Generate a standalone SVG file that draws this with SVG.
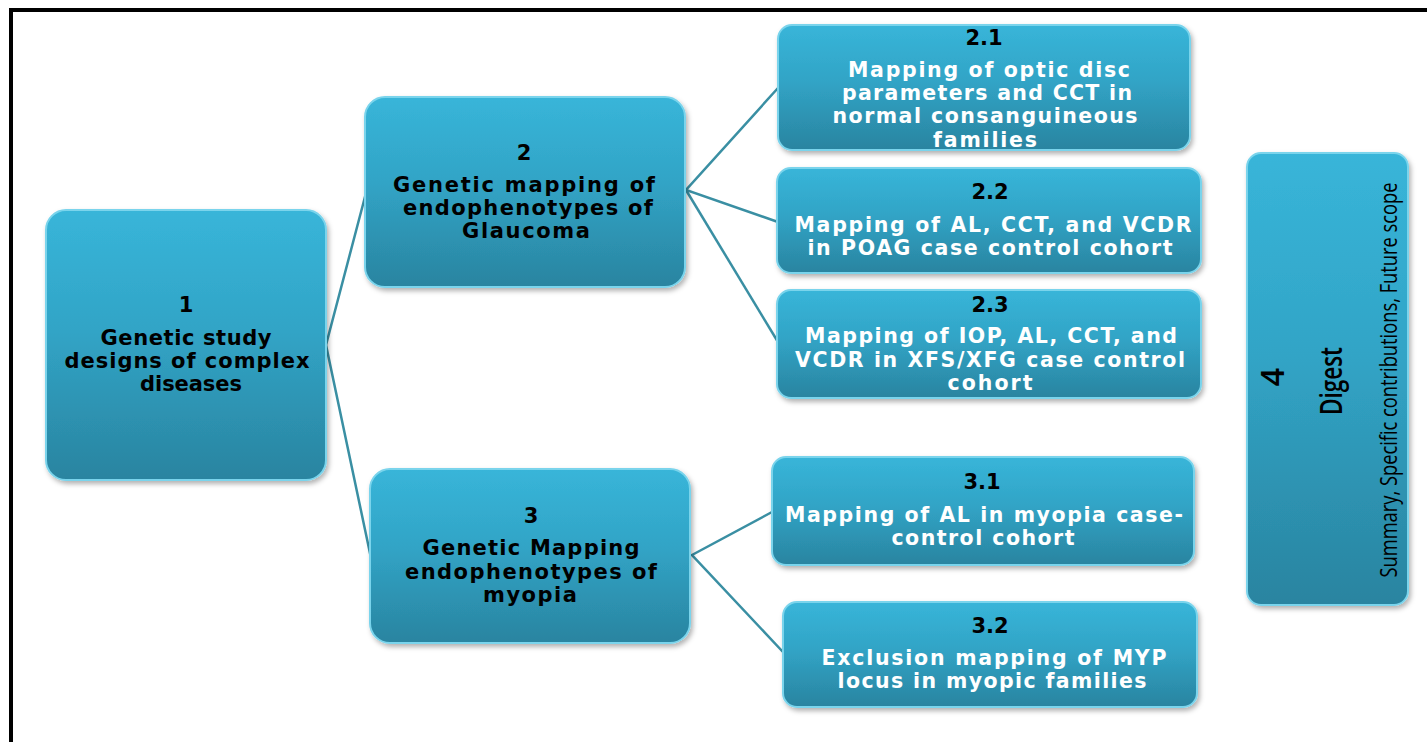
<svg xmlns="http://www.w3.org/2000/svg" width="1427" height="742" viewBox="0 0 1427 742">
<defs>
<linearGradient id="fill" x1="0" y1="0" x2="0" y2="1">
<stop offset="0" stop-color="#38b5d9"/>
<stop offset="0.45" stop-color="#31a4c6"/>
<stop offset="1" stop-color="#2a84a0"/>
</linearGradient>
<filter id="sh" x="-10%" y="-10%" width="125%" height="125%">
<feDropShadow dx="2" dy="3" stdDeviation="2.5" flood-color="#000" flood-opacity="0.3"/>
</filter>
</defs>
<style>
.box{fill:url(#fill);stroke:#7ad4ec;stroke-width:2;filter:url(#sh)}
.t{font-family:"DejaVu Sans",Verdana,sans-serif;font-weight:bold;text-anchor:middle}
.k{fill:#000;font-size:21px}
.w{fill:#fff;font-size:20.5px}
.n{fill:#000;font-size:21px}
.c{font-family:"Open Sans","Noto Sans",sans-serif;fill:#000;text-anchor:middle}
.ln{stroke:#3a8fa3;stroke-width:2.5;fill:none}
</style>
<rect x="0" y="0" width="1427" height="742" fill="#fff"/>
<rect x="9" y="8" width="1418" height="4" fill="#000"/>
<rect x="9" y="8" width="4" height="734" fill="#000"/>

<g id="connectors">
<polyline class="ln" points="366,193 326,345 371,558"/>
<polyline class="ln" points="778,88 686,190 778,222"/>
<line class="ln" x1="686" y1="190" x2="778" y2="342"/>
<polyline class="ln" points="772,512 692,555 783,652"/>
</g>

<g id="node1">
<rect class="box" x="46" y="210" width="280" height="270" rx="20"/>
<text class="t k" x="186" y="312">1</text>
<text class="t k" x="186" y="345" textLength="171" lengthAdjust="spacing">Genetic study</text>
<text class="t k" x="187" y="368" textLength="245" lengthAdjust="spacing">designs of complex</text>
<text class="t k" x="191" y="391" textLength="102" lengthAdjust="spacing">diseases</text>
</g>

<g id="node2">
<rect class="box" x="365" y="97" width="320" height="190" rx="20"/>
<text class="t k" x="524" y="160">2</text>
<text class="t k" x="524" y="192" textLength="262" lengthAdjust="spacing">Genetic  mapping of</text>
<text class="t k" x="528" y="215" textLength="250" lengthAdjust="spacing">endophenotypes of</text>
<text class="t k" x="526" y="238" textLength="128" lengthAdjust="spacing">Glaucoma</text>
</g>

<g id="node3">
<rect class="box" x="370" y="469" width="320" height="174" rx="20"/>
<text class="t k" x="531" y="523">3</text>
<text class="t k" x="531" y="555" textLength="217" lengthAdjust="spacing">Genetic Mapping</text>
<text class="t k" x="531" y="579" textLength="252" lengthAdjust="spacing">endophenotypes  of</text>
<text class="t k" x="530" y="602" textLength="94" lengthAdjust="spacing">myopia</text>
</g>

<g id="node2_1">
<rect class="box" x="778" y="25" width="412" height="125" rx="14"/>
<text class="t n" x="984" y="45">2.1</text>
<text class="t w" x="989" y="77" textLength="282" lengthAdjust="spacing">Mapping  of optic disc</text>
<text class="t w" x="987" y="100" textLength="290" lengthAdjust="spacing">parameters and CCT in</text>
<text class="t w" x="985" y="123" textLength="305" lengthAdjust="spacing">normal consanguineous</text>
<text class="t w" x="985" y="147" textLength="104" lengthAdjust="spacing">families</text>
</g>

<g id="node2_2">
<rect class="box" x="777" y="168" width="424" height="105" rx="14"/>
<text class="t n" x="990" y="199">2.2</text>
<text class="t w" x="993" y="232" textLength="397" lengthAdjust="spacing">Mapping  of AL, CCT, and VCDR</text>
<text class="t w" x="990" y="255" textLength="365" lengthAdjust="spacing">in POAG case control cohort</text>
</g>

<g id="node2_3">
<rect class="box" x="777" y="290" width="424" height="108" rx="14"/>
<text class="t n" x="990" y="312">2.3</text>
<text class="t w" x="991" y="343" textLength="372" lengthAdjust="spacing">Mapping  of IOP, AL, CCT, and</text>
<text class="t w" x="990" y="367" textLength="390" lengthAdjust="spacing">VCDR in XFS/XFG case control</text>
<text class="t w" x="990" y="390" textLength="85" lengthAdjust="spacing">cohort</text>
</g>

<g id="node3_1">
<rect class="box" x="772" y="457" width="422" height="108" rx="14"/>
<text class="t n" x="982" y="489">3.1</text>
<text class="t w" x="984" y="522" textLength="398" lengthAdjust="spacing">Mapping  of AL in myopia case-</text>
<text class="t w" x="983" y="545" textLength="183" lengthAdjust="spacing">control cohort</text>
</g>

<g id="node3_2">
<rect class="box" x="783" y="602" width="414" height="105" rx="14"/>
<text class="t n" x="990" y="633">3.2</text>
<text class="t w" x="994" y="665" textLength="345" lengthAdjust="spacing">Exclusion  mapping of MYP</text>
<text class="t w" x="992" y="688" textLength="309" lengthAdjust="spacing">locus in myopic families</text>
</g>

<g id="node4">
<rect class="box" x="1247" y="153" width="161" height="452" rx="14"/>
<text class="c" font-size="32" font-weight="600" transform="translate(1284,377) rotate(-90)">4</text>
<text class="c" font-size="31" font-weight="600" transform="translate(1342,381) rotate(-90)" textLength="68" lengthAdjust="spacingAndGlyphs">Digest</text>
<text class="c" font-size="23" transform="translate(1397,380) rotate(-90)" textLength="395" lengthAdjust="spacingAndGlyphs">Summary, Specific contributions,  Future scope</text>
</g>
</svg>
